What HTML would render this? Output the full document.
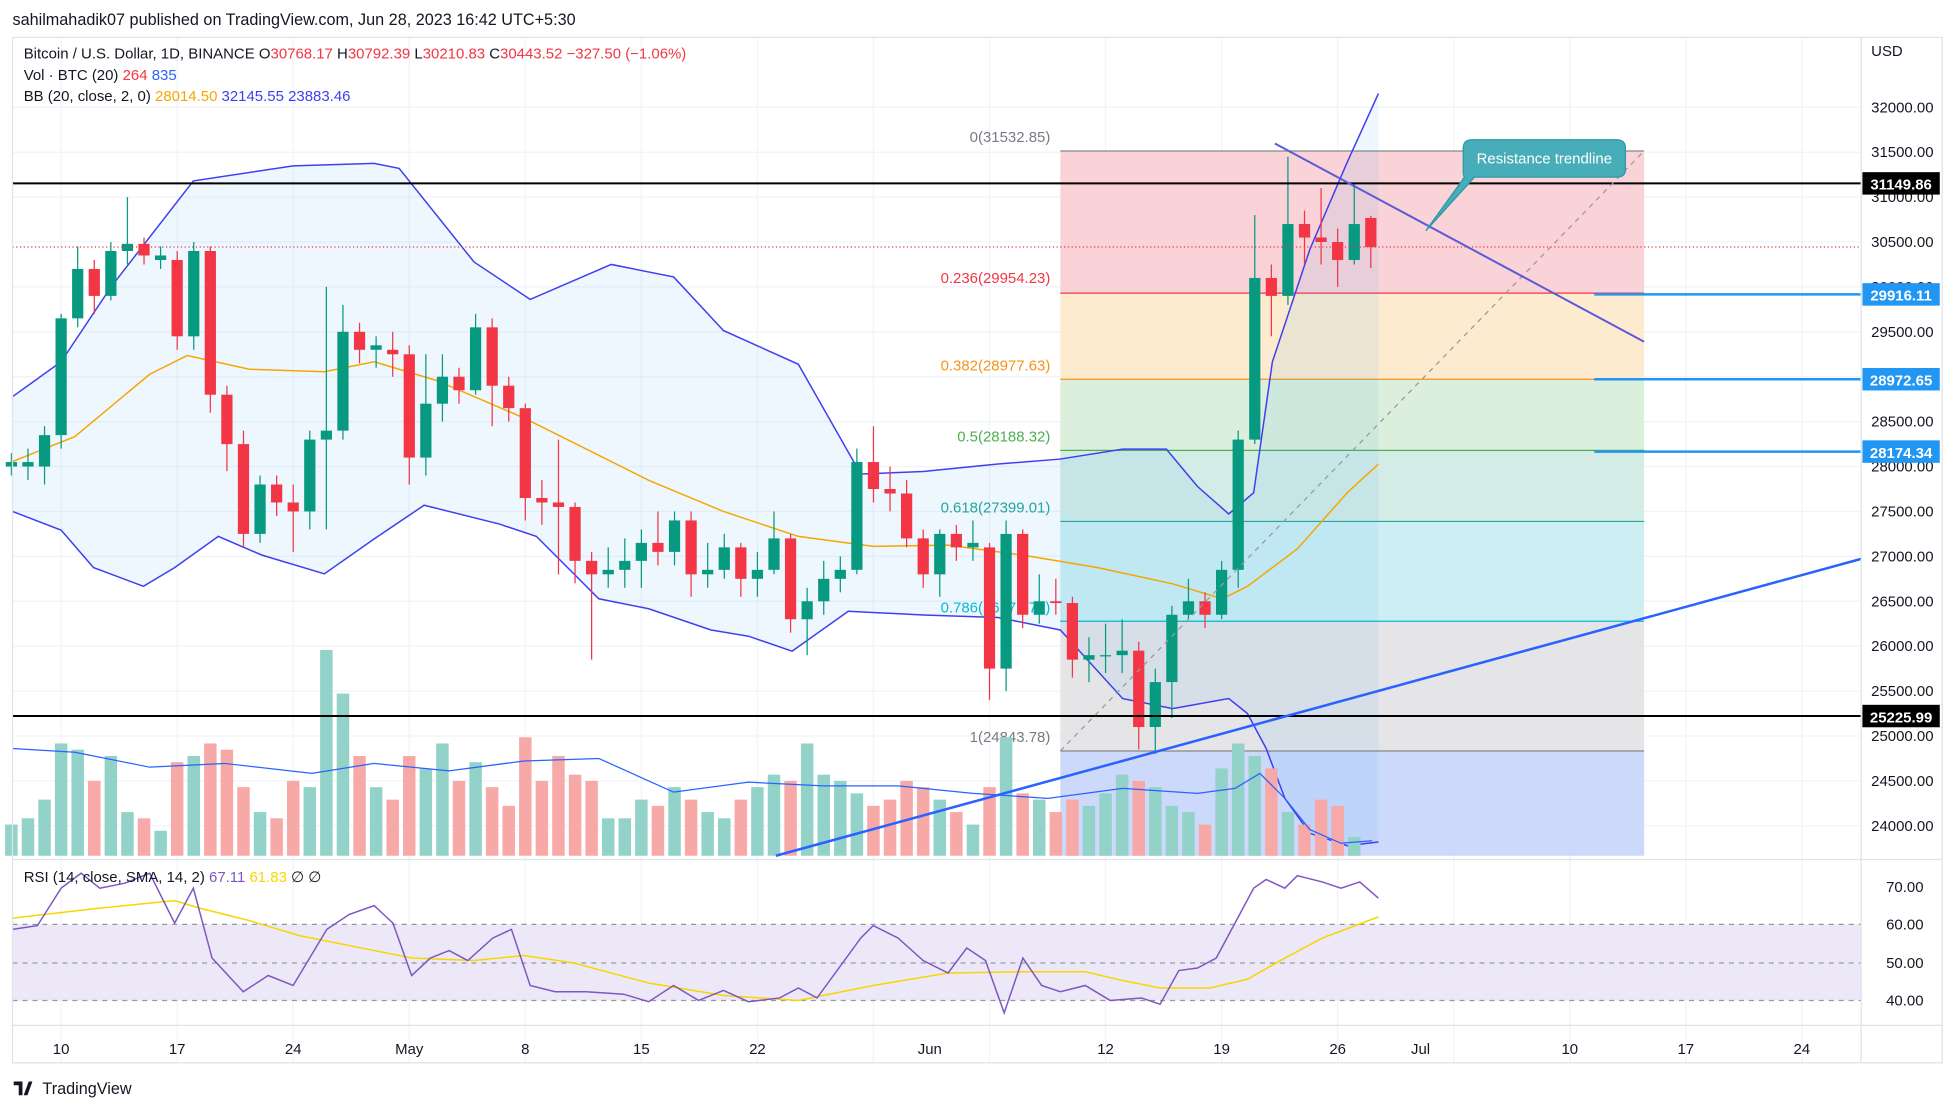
<!DOCTYPE html>
<html><head><meta charset="utf-8"><style>
html,body{margin:0;padding:0;background:#fff;width:1946px;height:1104px;overflow:hidden}
svg{display:block;font-family:"Liberation Sans",sans-serif}
</style></head><body>
<svg id="s" width="1946" height="1104" viewBox="0 0 1560 885" xmlns="http://www.w3.org/2000/svg">
<rect width="1560" height="885" fill="#fff"/>
<g id="grid"></g>
<rect x="850" y="121" width="468" height="114" fill="#f9d3d7"/>
<rect x="850" y="235" width="468" height="69" fill="#fdebd0"/>
<rect x="850" y="304" width="468" height="57" fill="#dcefdc"/>
<rect x="850" y="361" width="468" height="57" fill="#d3ece6"/>
<rect x="850" y="418" width="468" height="80" fill="#cdeff3"/>
<rect x="850" y="498" width="468" height="104" fill="#e5e5e8"/>
<rect x="850" y="602" width="468" height="84" fill="#cdd9fb"/>
<line x1="850" y1="121" x2="1318" y2="121" stroke="#888" stroke-width="1"/>
<line x1="850" y1="235" x2="1318" y2="235" stroke="#f23645" stroke-width="1"/>
<line x1="850" y1="304" x2="1318" y2="304" stroke="#f7931a" stroke-width="1"/>
<line x1="850" y1="361" x2="1318" y2="361" stroke="#4caf50" stroke-width="1"/>
<line x1="850" y1="418" x2="1318" y2="418" stroke="#26a69a" stroke-width="1"/>
<line x1="850" y1="498" x2="1318" y2="498" stroke="#00bcd4" stroke-width="1"/>
<line x1="850" y1="602" x2="1318" y2="602" stroke="#888" stroke-width="1"/>
<g font-size="12">
<text x="842" y="114" text-anchor="end" fill="#787b86">0(31532.85)</text>
<text x="842" y="227" text-anchor="end" fill="#f23645">0.236(29954.23)</text>
<text x="842" y="297" text-anchor="end" fill="#f7931a">0.382(28977.63)</text>
<text x="842" y="354" text-anchor="end" fill="#4caf50">0.5(28188.32)</text>
<text x="842" y="411" text-anchor="end" fill="#26a69a">0.618(27399.01)</text>
<text x="842" y="491" text-anchor="end" fill="#00bcd4">0.786(26279.76)</text>
<text x="842" y="595" text-anchor="end" fill="#787b86">1(24843.78)</text>
</g>
<g id="bb"></g>
<g id="vol"></g>
<g id="candles"></g>
<line x1="10" y1="147" x2="1492" y2="147" stroke="#000" stroke-width="1.6"/>
<line x1="10" y1="574" x2="1492" y2="574" stroke="#000" stroke-width="1.6"/>
<line x1="10" y1="198" x2="1492" y2="198" stroke="#f23645" stroke-width="1" stroke-dasharray="1,2"/>
<line x1="850" y1="602" x2="1318" y2="121" stroke="#999" stroke-width="1" stroke-dasharray="4,4"/>
<line x1="622" y1="686" x2="1492" y2="448" stroke="#2962ff" stroke-width="2"/>
<line x1="1022" y1="115" x2="1318" y2="274" stroke="#5b5bd6" stroke-width="1.6"/>
<g stroke="#2196f3" stroke-width="2">
<line x1="1278" y1="236" x2="1492" y2="236"/><line x1="1278" y1="304" x2="1492" y2="304"/><line x1="1278" y1="362" x2="1492" y2="362"/>
</g>
<path d="M1180 112 H1296 Q1303 112 1303 119 V136 Q1303 142 1296 142 H1182 L1143 185 L1174 142 Q1173 142 1173 136 V119 Q1173 112 1180 112 Z" fill="#47adb9" stroke="#2a9aa6"/>
<text x="1238" y="131" font-size="12" fill="#fff" text-anchor="middle">Resistance trendline</text>
<rect x="10" y="741" width="1482" height="61" fill="#ede8f8"/>
<g stroke="#9598a1" stroke-dasharray="4,4" stroke-width="1">
<line x1="10" y1="741" x2="1492" y2="741"/><line x1="10" y1="772" x2="1492" y2="772"/><line x1="10" y1="802" x2="1492" y2="802"/>
</g>
<line x1="10" y1="689" x2="1557" y2="689" stroke="#e0e3eb"/>
<g id="rsi"></g>
<rect x="10" y="30" width="1547" height="822" fill="none" stroke="#e0e3eb"/>
<line x1="1492" y1="30" x2="1492" y2="852" stroke="#e0e3eb"/>
<line x1="10" y1="822" x2="1557" y2="822" stroke="#e0e3eb"/>
<g id="axis" font-size="12" fill="#131722"></g>
<g font-size="12">
<text x="10" y="20" fill="#131722" font-size="13">sahilmahadik07 published on TradingView.com, Jun 28, 2023 16:42 UTC+5:30</text>
<text x="19" y="47" fill="#131722">Bitcoin / U.S. Dollar, 1D, BINANCE  O<tspan fill="#f23645">30768.17</tspan>  H<tspan fill="#f23645">30792.39</tspan>  L<tspan fill="#f23645">30210.83</tspan>  C<tspan fill="#f23645">30443.52  −327.50 (−1.06%)</tspan></text>
<text x="19" y="64" fill="#131722">Vol · BTC (20)  <tspan fill="#f23645">264</tspan>  <tspan fill="#2962ff">835</tspan></text>
<text x="19" y="81" fill="#131722">BB (20, close, 2, 0)  <tspan fill="#f7a600">28014.50</tspan>  <tspan fill="#3f3ff0">32145.55</tspan>  <tspan fill="#3f3ff0">23883.46</tspan></text>
<text x="19" y="707" fill="#131722">RSI (14, close, SMA, 14, 2)  <tspan fill="#7e57c2">67.11</tspan>  <tspan fill="#f7d600">61.83</tspan>  ∅  ∅</text>
<text x="1500" y="45" fill="#131722">USD</text>
<text x="34" y="877" fill="#131722" font-size="13">TradingView</text>
</g>
<path d="M11 867 h7 v11 h-3 v-8 h-4z M19 878 l4 -11 h3 l-4 11z" fill="#131722"/>
</svg>
<script>
const NS="http://www.w3.org/2000/svg";
function el(p,t,a,txt){const e=document.createElementNS(NS,t);for(const k in a)e.setAttribute(k,a[k]);if(txt!==undefined)e.textContent=txt;document.getElementById(p).appendChild(e);return e;}
const Y=p=>86+(32000-p)*0.072, X=d=>49+13.29*d;
for(let d=0;d<=105;d+=7){el('grid','line',{x1:X(d),y1:30,x2:X(d),y2:852,stroke:'#f0f3fa'});}
for(let p=24000;p<=32000;p+=500){el('grid','line',{x1:10,y1:Y(p),x2:1492,y2:Y(p),stroke:'#f0f3fa'});}
for(let p=24000;p<=32000;p+=500){el('axis','text',{x:1500,y:Y(p)+4},p.toFixed(2));}
[[70,711],[60,741],[50,772],[40,802]].forEach(a=>el('axis','text',{x:1512,y:a[1]+4},a[0].toFixed(2)));
[['10',0],['17',7],['24',14],['May',21],['8',28],['15',35],['22',42],['Jun',52.4],['12',63],['19',70],['26',77],['Jul',82],['10',91],['17',98],['24',105]].forEach(a=>el('axis','text',{x:X(a[1]),y:845,'text-anchor':'middle'},a[0]));
function tag(y,v,c){el('axis','rect',{x:1493,y:y-9,width:62,height:18,fill:c});el('axis','text',{x:1524,y:y+5,'text-anchor':'middle',fill:'#fff','font-weight':'bold'},v);}
tag(147,'31149.86','#000');tag(236,'29916.11','#2196f3');tag(304,'28972.65','#2196f3');tag(362,'28174.34','#2196f3');tag(574,'25225.99','#000');
const up=[[10,318],[49,290],[89,230],[155,145],[235,133],[300,131],[320,135],[380,210],[425,240],[490,212],[540,222],[580,265],[640,292],[690,380],[740,378],[800,372],[850,368],[900,360],[935,360],[960,390],[985,412],[1005,395],[1020,290],[1050,200],[1080,130],[1105,75]];
const lo=[[10,410],[49,425],[75,455],[115,470],[140,455],[175,430],[210,445],[260,460],[300,432],[340,405],[400,420],[430,430],[480,480],[520,488],[570,505],[600,510],[635,522],[680,490],[740,493],[800,495],[850,505],[900,560],[940,568],[985,560],[1000,572],[1015,600],[1030,640],[1050,668],[1080,678],[1105,675]];
const mid=[[10,370],[60,350],[120,300],[150,285],[200,296],[260,298],[300,290],[350,305],[420,335],[470,360],[520,385],[580,410],[640,430],[700,438],[760,437],[820,445],[880,455],[940,468],[980,480],[1000,470],[1040,440],[1080,395],[1105,372]];
const pts=a=>a.map(p=>p.join(',')).join(' ');
el('bb','polygon',{points:pts(up)+' '+pts(lo.slice().reverse()),fill:'#2196f3',opacity:0.08});
el('bb','polyline',{points:pts(up),fill:'none',stroke:'#3f3ff0','stroke-width':1.2});
el('bb','polyline',{points:pts(lo),fill:'none',stroke:'#3f3ff0','stroke-width':1.2});
el('bb','polyline',{points:pts(mid),fill:'none',stroke:'#f7a600','stroke-width':1.2});
const C=[[28000,28050,28150,27900],[28000,28050,28200,27850],[28000,28350,28450,27800],[28350,29650,29700,28200],[29650,30200,30450,29550],[30200,29900,30300,29700],[29900,30400,30500,29850],[30400,30480,31000,30250],[30480,30350,30550,30250],[30300,30350,30450,30200],[30300,29450,30400,29300],[29450,30400,30500,29300],[30400,28800,30450,28600],[28800,28250,28900,27950],[28250,27250,28400,27100],[27250,27800,27900,27150],[27800,27600,27900,27450],[27600,27500,27800,27050],[27500,28300,28400,27300],[28300,28400,30000,27300],[28400,29500,29800,28300],[29500,29300,29600,29150],[29300,29350,29450,29100],[29300,29250,29500,29000],[29250,28100,29350,27800],[28100,28700,29250,27900],[28700,29000,29250,28500],[29000,28850,29100,28700],[28850,29550,29700,28800],[29550,28900,29650,28450],[28900,28650,29000,28500],[28650,27650,28700,27400],[27650,27600,27850,27350],[27600,27550,28300,26800],[27550,26950,27600,26700],[26950,26800,27050,25850],[26800,26850,27100,26650],[26850,26950,27200,26650],[26950,27150,27300,26650],[27150,27050,27500,26900],[27050,27400,27500,26900],[27400,26800,27500,26550],[26800,26850,27150,26650],[26850,27100,27250,26750],[27100,26750,27150,26550],[26750,26850,27050,26550],[26850,27200,27500,26800],[27200,26300,27250,26150],[26300,26500,26650,25900],[26500,26750,26950,26350],[26750,26850,27000,26600],[26850,28050,28200,26800],[28050,27750,28450,27600],[27750,27700,28000,27500],[27700,27200,27850,27100],[27200,26800,27300,26650],[26800,27250,27300,26550],[27250,27100,27350,26950],[27100,27150,27400,26950],[27100,25750,27150,25400],[25750,27250,27400,25500],[27250,26350,27300,26200],[26350,26500,26800,26250],[26500,26480,26750,26350],[26480,25850,26550,25650],[25850,25900,26100,25600],[25900,25900,26250,25700],[25900,25950,26300,25700],[25950,25100,26050,24850],[25100,25600,25750,24800],[25600,26350,26450,25200],[26350,26500,26750,26300],[26500,26350,26600,26200],[26350,26850,26950,26300],[26850,28300,28400,26650],[28300,30100,30800,28250],[30100,29900,30250,29450],[29900,30700,31450,29800],[30700,30550,30850,30250],[30550,30500,31100,30250],[30500,30300,30650,30000],[30300,30700,31150,30250],[30768,30443,30792,30210]];
const vh=[25,30,45,90,85,60,80,35,30,20,75,80,90,85,55,35,30,60,55,165,130,80,55,45,80,70,90,60,75,55,40,95,60,80,65,60,30,30,45,40,55,45,35,30,45,55,65,60,90,65,60,50,40,45,60,55,45,35,25,55,95,50,45,35,45,40,50,65,60,55,40,35,25,70,90,80,70,35,25,45,40,15];
const VC=[[10,600],[60,603],[120,615],[180,612],[250,620],[300,612],[360,618],[420,610],[480,608],[540,635],[600,627],[660,630],[720,630],[780,636],[840,640],[900,632],[960,636],[990,632],[1010,620],[1030,640],[1050,665],[1075,676],[1100,674]];
C.forEach((c,i)=>{const d=i-3,x=X(d),g=c[1]>=c[0];const col=g?'#089981':'#f23645';
 el('vol','rect',{x:x-5,y:686-vh[i],width:10,height:vh[i],fill:g?'#92d2c8':'#f7a9a7'});
 el('candles','line',{x1:x,x2:x,y1:Y(c[2]),y2:Y(c[3]),stroke:col,'stroke-width':1});
 const t=Y(Math.max(c[0],c[1])),b=Y(Math.min(c[0],c[1]));
 el('candles','rect',{x:x-4.5,y:t,width:9,height:Math.max(1,b-t),fill:col});
});
el('vol','polyline',{points:pts(VC),fill:'none',stroke:'#2962ff','stroke-width':1});
const R=[[10,745],[30,742],[49,712],[65,700],[80,712],[100,708],[120,700],[140,740],[155,712],[170,768],[195,795],[215,782],[235,790],[262,745],[280,733],[300,726],[315,740],[330,782],[345,768],[360,762],[375,770],[395,752],[410,745],[425,790],[445,795],[470,795],[500,797],[520,803],[540,790],[560,802],[580,794],[600,803],[625,800],[640,792],[655,800],[690,752],[700,742],[720,752],[740,770],[760,780],[775,760],[790,770],[805,812],[820,768],[835,790],[850,795],[870,790],[890,802],[915,800],[930,805],[945,778],[960,776],[975,768],[990,740],[1005,712],[1015,705],[1030,712],[1040,702],[1060,707],[1075,712],[1090,707],[1105,720]];
const RS=[[10,736],[80,728],[140,722],[160,728],[200,738],[240,750],[290,760],[330,768],[380,770],[420,766],[460,772],[520,788],[580,798],[640,802],[700,790],[760,780],[820,779],[870,779],[900,786],[930,792],[970,792],[1000,785],[1030,768],[1060,752],[1105,735]];
el('rsi','polyline',{points:pts(RS),fill:'none',stroke:'#f7d600','stroke-width':1.2});
el('rsi','polyline',{points:pts(R),fill:'none',stroke:'#7e57c2','stroke-width':1.2});
</script>
</body></html>
